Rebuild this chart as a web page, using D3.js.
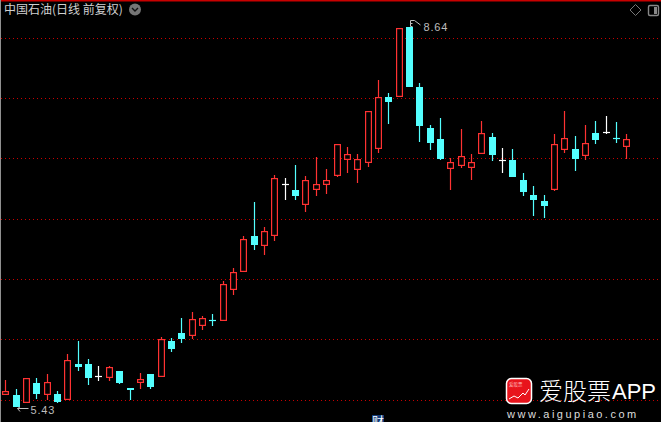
<!DOCTYPE html>
<html><head><meta charset="utf-8">
<script src="https://cdn.jsdelivr.net/npm/d3@7/dist/d3.min.js"></script>
<style>html,body{margin:0;padding:0;background:#000;overflow:hidden}svg{display:block}</style>
</head><body><svg id="c" width="661" height="422"></svg>
<script>
const title = "中国石油(日线 前复权)";
const opens  = [5.531,5.531,5.464,5.633,5.531,5.540,5.489,5.793,5.793,5.692,5.675,5.734,5.591,5.633,5.709,5.683,5.988,6.055,6.030,6.114,6.165,6.157,6.418,6.570,6.875,6.790,6.875,7.314,7.263,7.136,7.263,7.305,7.381,7.516,7.432,7.491,7.609,8.049,8.049,8.640,8.133,7.787,7.694,7.440,7.466,7.449,7.567,7.711,7.516,7.516,7.348,7.221,7.170,7.263,7.601,7.609,7.550,7.745,7.753,7.702,7.626];
const closes = [5.565,5.430,5.675,5.540,5.641,5.472,5.827,5.768,5.675,5.692,5.768,5.633,5.574,5.667,5.599,6.004,5.920,6.004,6.173,6.182,6.165,6.469,6.570,6.849,6.798,6.917,7.364,7.314,7.212,7.348,7.314,7.348,7.652,7.567,7.525,7.930,8.049,8.006,8.631,8.133,7.804,7.660,7.525,7.500,7.550,7.500,7.745,7.559,7.516,7.373,7.246,7.179,7.128,7.652,7.702,7.525,7.660,7.685,7.753,7.702,7.694];
const highs  = [5.658,5.582,5.675,5.675,5.709,5.565,5.878,5.988,5.836,5.776,5.776,5.734,5.591,5.717,5.709,6.021,6.013,6.182,6.233,6.199,6.216,6.494,6.604,6.875,7.162,6.951,7.390,7.364,7.474,7.381,7.542,7.440,7.652,7.626,7.567,7.930,8.192,8.082,8.631,8.640,8.167,7.812,7.871,7.533,7.778,7.567,7.846,7.745,7.618,7.609,7.407,7.297,7.221,7.736,7.930,7.719,7.812,7.846,7.888,7.837,7.736];
const lows   = [5.531,5.430,5.464,5.498,5.489,5.464,5.489,5.734,5.616,5.650,5.650,5.624,5.489,5.582,5.582,5.683,5.895,5.971,6.004,6.080,6.114,6.157,6.376,6.570,6.756,6.714,6.832,7.179,7.179,7.077,7.212,7.229,7.373,7.407,7.322,7.457,7.576,7.821,8.049,8.133,7.669,7.601,7.516,7.263,7.449,7.348,7.567,7.508,7.407,7.373,7.212,7.043,7.027,7.255,7.576,7.424,7.516,7.652,7.736,7.660,7.525];
const gridPrices = [8.543,8.036,7.525,7.018,6.511,6.004,5.489];
const flatDayColors = {9:"#ffffff",20:"#54ffff",27:"#ffffff",48:"#ffffff",58:"#ffffff",59:"#54ffff"};
const maxMark = {index:39, price:8.64, label:"8.64"};
const minMark = {index:1, price:5.43, label:"5.43"};

const W=661,H=422;
const svg=d3.select("#c");
const x=d3.scaleLinear().domain([0,opens.length-1]).range([5.5,626.5]);
const y=d3.scaleLinear().domain([8.868,5.3035]).range([0,422]);
const crisp=v=>Math.round(v);
const RED="#ff3232",CYAN="#54ffff",GRID="#c80000";

svg.append("rect").attr("width",W).attr("height",H).attr("fill","#000");
svg.append("rect").attr("width",W).attr("height",1.5).attr("fill","#c80000");
svg.append("rect").attr("width",1).attr("height",H).attr("fill","#909090");

svg.selectAll("line.grid").data(gridPrices).join("line").attr("class","grid")
 .attr("x1",1).attr("x2",W).attr("y1",d=>Math.floor(y(d))+.5).attr("y2",d=>Math.floor(y(d))+.5)
 .attr("stroke",GRID).attr("stroke-dasharray","1 3");

const candles=d3.range(opens.length);
const colorOf=i=>closes[i]>opens[i]?RED:closes[i]<opens[i]?CYAN:flatDayColors[i];
const g=svg.append("g");
const cx=i=>Math.round(x(i)-.2)+.5;
g.selectAll("line.wick").data(candles).join("line").attr("class","wick")
 .attr("x1",cx).attr("x2",cx).attr("y1",i=>crisp(y(highs[i]))).attr("y2",i=>crisp(y(lows[i])))
 .attr("stroke",colorOf).attr("stroke-width",1.2);
g.selectAll("rect.body").data(candles.filter(i=>closes[i]!==opens[i])).join("rect").attr("class","body")
 .each(function(i){
   const top=crisp(y(Math.max(opens[i],closes[i]))),bot=crisp(y(Math.min(opens[i],closes[i])));
   const s=d3.select(this),up=closes[i]>opens[i];
   if(up) s.attr("x",cx(i)-2.9).attr("width",5.8).attr("y",top+.6).attr("height",bot-top-1.2).attr("fill","#000").attr("stroke",RED).attr("stroke-width",1.2);
   else s.attr("x",cx(i)-3.5).attr("width",7).attr("y",top).attr("height",bot-top).attr("fill",CYAN);
 });
g.selectAll("line.flat").data(candles.filter(i=>closes[i]===opens[i])).join("line").attr("class","flat")
 .attr("x1",i=>cx(i)-3.5).attr("x2",i=>cx(i)+3.5)
 .attr("y1",i=>crisp(y(opens[i]))+.5).attr("y2",i=>crisp(y(opens[i]))+.5).attr("stroke",colorOf).attr("stroke-width",1.2);

const LBL="#bdbdbd";
function label(m,baseline){
  svg.append("text").attr("x",cx(m.index)+14).attr("y",baseline).attr("fill",LBL)
   .attr("font-family","'Liberation Sans',sans-serif").attr("font-size",11).attr("letter-spacing",0.8).text(m.label);
}
const yMax=crisp(y(maxMark.price)), yMin=crisp(y(minMark.price)), xMax=cx(maxMark.index), xMin=cx(minMark.index);
label(maxMark,yMax+4);
label(minMark,yMin+7);
svg.append("path").attr("fill","none").attr("stroke",LBL)
 .attr("d",`M${xMax+1},${yMax-6.5}L${xMax+5},${yMax-6.5}L${xMax+11},${yMax-2}M${xMax+1},${yMax-6.5}V${yMax-.5}M${xMax+1},${yMax-3.5}H${xMax+3}M${xMax+1},${yMax-.5}H${xMax+3}`);
svg.append("path").attr("fill","none").attr("stroke",LBL)
 .attr("d",`M${xMin+1},${yMin+1.5}H${xMin+12}M${xMin+1},${yMin+1.5}l2.5,-1.5M${xMin+1},${yMin+1.5}l2.5,3`);

svg.append("text").attr("x",4).attr("y",14).attr("fill","#d0d0d0")
 .attr("font-family","'Noto Sans CJK SC',sans-serif").attr("font-size",12).text(title);
svg.append("circle").attr("cx",135).attr("cy",9.5).attr("r",6).attr("fill","#757575");
svg.append("path").attr("d","M132,8l3,3l3,-3").attr("fill","none").attr("stroke","#111").attr("stroke-width",1.4);

// toolbar icons
svg.append("path").attr("d","M635.5,4.5l5.5,5.5l-5.5,5.5l-5.5,-5.5z").attr("fill","none").attr("stroke","#777");
svg.append("rect").attr("x",648.5).attr("y",5.5).attr("width",10).attr("height",10).attr("rx",1.5).attr("fill","none").attr("stroke","#888").attr("stroke-width",1.4);
svg.append("rect").attr("x",654).attr("y",7).attr("width",3).attr("height",7).attr("fill","#888");

// footer tab
svg.append("rect").attr("x",372).attr("y",415).attr("width",12).attr("height",7).attr("fill","#123a78");
svg.append("text").attr("x",378).attr("y",426).attr("text-anchor","middle").attr("fill","#fff")
 .attr("font-family","'Noto Sans CJK SC',sans-serif").attr("font-size",12).text("财");

// watermark
svg.append("rect").attr("x",506.5).attr("y",378.5).attr("width",25).attr("height",25).attr("rx",5).attr("fill","#e8141c").attr("stroke","#fff").attr("stroke-width",1.5);
svg.append("path").attr("d","M509,399l5,-3l4,2l5,-5l2,2l4,-6").attr("fill","none").attr("stroke","#fff").attr("stroke-width",1);
svg.append("text").attr("x",509).attr("y",386).attr("fill","#ffb0b0").attr("font-size",4.5).attr("font-family","'Noto Sans CJK SC',sans-serif").text("爱股票");
svg.append("text").attr("x",539).attr("y",400).attr("fill","#fff").attr("font-family","'Noto Sans CJK SC',sans-serif").attr("font-size",24).attr("font-weight",300).text("爱股票");
svg.append("text").attr("x",612).attr("y",399).attr("fill","#fff").attr("font-family","'Liberation Sans',sans-serif").attr("font-size",22).text("APP");
svg.append("text").attr("x",507).attr("y",418).attr("fill","#ddd").attr("font-family","'Liberation Sans',sans-serif").attr("font-size",11).attr("letter-spacing",2.5).text("www.aigupiao.com");
</script></body></html>
